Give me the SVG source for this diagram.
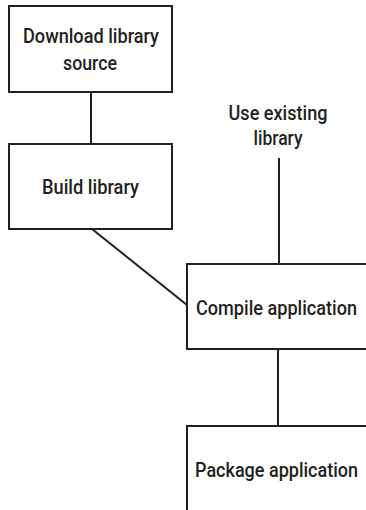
<svg xmlns="http://www.w3.org/2000/svg" width="366" height="510" viewBox="0 0 366 510">
<style>
.box{fill:#fff;stroke:#231f20;stroke-width:2}
.conn line{stroke:#231f20;stroke-width:2}
text{font-family:Roboto,"Liberation Sans",Arial,sans-serif;font-weight:500;font-size:21px;fill:#231f20;text-anchor:middle}
</style>
<rect width="366" height="510" fill="#fff"/>
<g id="connectors" class="conn">
<line x1="91" y1="92" x2="91" y2="144"/>
<line x1="92" y1="229" x2="187" y2="305"/>
<line x1="279" y1="158" x2="279" y2="264"/>
<line x1="278" y1="349" x2="278" y2="426"/>
</g>
<g id="download">
<rect class="box" x="9" y="6" width="163" height="86"/>
<text x="91" y="43" textLength="136" lengthAdjust="spacingAndGlyphs">Download library</text>
<text x="90" y="70" textLength="54" lengthAdjust="spacingAndGlyphs">source</text>
</g>
<g id="build">
<rect class="box" x="9" y="144" width="163" height="85"/>
<text x="90.5" y="194" textLength="97" lengthAdjust="spacingAndGlyphs">Build library</text>
</g>
<g id="existing">
<text x="278" y="120" textLength="99" lengthAdjust="spacingAndGlyphs">Use existing</text>
<text x="278" y="145" textLength="49" lengthAdjust="spacingAndGlyphs">library</text>
</g>
<g id="compile">
<path class="box" d="M366 264H187V349H366"/>
<text transform="translate(276.5,315) scale(0.85,1)" textLength="189.4" lengthAdjust="spacingAndGlyphs">Compile application</text>
</g>
<g id="package">
<path class="box" d="M366 426H187V511"/>
<text transform="translate(276.5,477) scale(0.85,1)" textLength="191.8" lengthAdjust="spacingAndGlyphs">Package application</text>
</g>
</svg>
